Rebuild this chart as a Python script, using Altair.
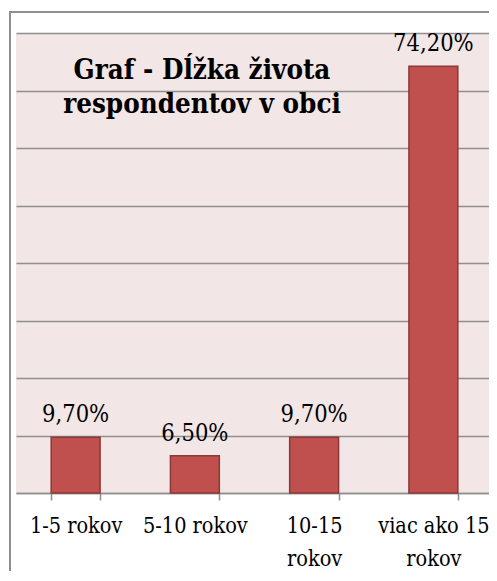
import altair as alt
import pandas as pd

categories = ["1-5 rokov", "5-10 rokov", "10-15 rokov", "viac ako 15 rokov"]
values = [9.7, 6.5, 9.7, 74.2]
title_lines = ["Graf - Dĺžka života", "respondentov v obci"]

df = pd.DataFrame({"kategoria": categories, "hodnota": values})

FONT = "DejaVu Serif Condensed, DejaVu Serif"
GRAY = "#8f8f8f"

x = alt.X(
    "kategoria:N",
    sort=categories,
    scale=alt.Scale(paddingInner=0.59, paddingOuter=0.295, range=[0, 477]),
    axis=alt.Axis(
        title=None,
        labelAngle=0,
        labelFont=FONT,
        labelFontSize=21.5,
        labelColor="black",
        labelPadding=15,
        labelLineHeight=33,
        labelLimit=300,
        labelOverlap=False,
        tickSize=7,
        tickColor=GRAY,
        tickWidth=1.5,
        tickBand="extent",
        domainColor=GRAY,
        domainWidth=1.5,
        labelExpr="datum.label == '10-15 rokov' ? ['10-15', 'rokov'] : datum.label == 'viac ako 15 rokov' ? ['viac ako 15\u00a0\u00a0', 'rokov\u00a0\u00a0\u00a0'] : datum.label",
    ),
)
y = alt.Y(
    "hodnota:Q",
    scale=alt.Scale(domain=[0, 80], nice=False),
    axis=alt.Axis(
        title=None,
        labels=False,
        ticks=False,
        domain=False,
        values=[0, 10, 20, 30, 40, 50, 60, 70, 80],
        gridColor=GRAY,
        gridWidth=1.5,
    ),
)

base = alt.Chart(df)

bars = base.mark_bar(color="#C0504D", stroke="#8C3836", strokeWidth=1.5).encode(x=x, y=y)

labels = (
    base.transform_calculate(
        lab="replace(format(datum.hodnota, '.2f'), '.', ',') + '%'"
    )
    .mark_text(font=FONT, fontSize=23.5, color="black", baseline="alphabetic", dy=-15)
    .encode(x=x, y=y, text="lab:N")
)

title = (
    alt.Chart(pd.DataFrame({"t": [0]}))
    .mark_text(
        text=title_lines,
        font=FONT,
        fontSize=27.5,
        fontWeight="bold",
        color="black",
        align="center",
        baseline="alphabetic",
        lineHeight=34,
    )
    .encode(x=alt.value(186), y=alt.value(46))
)

frame = (
    alt.Chart(pd.DataFrame({"t": [0]}))
    .mark_rect(filled=False, stroke=GRAY, strokeWidth=2, fill=None)
    .encode(x=alt.value(-6), x2=alt.value(500), y=alt.value(-21), y2=alt.value(600))
)

chart = (
    alt.layer(frame, bars, labels, title)
    .properties(
        width=473,
        height=460,
        autosize=alt.AutoSizeParams(type="none"),
        padding={"left": 8, "top": 25, "right": 0, "bottom": 78},
        background="white",
    )
    .configure_view(fill="#F2E6E6", stroke=None)
)

chart.save("out.html", embed_options={"renderer": "svg", "actions": False})
